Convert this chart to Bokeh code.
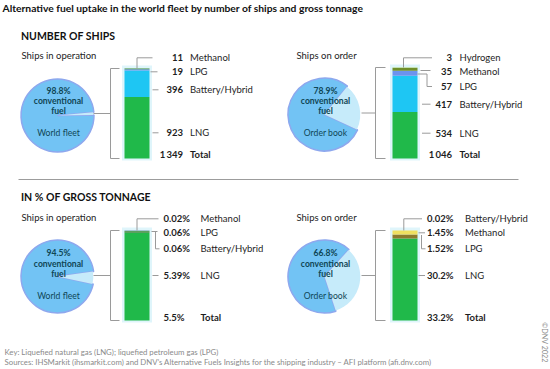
import math
from bokeh.plotting import figure
from bokeh.models import Range1d
from bokeh.core.properties import value
from bokeh.embed import file_html
from bokeh.resources import INLINE

# ---------------- data ----------------
title = "Alternative fuel uptake in the world fleet by number of ships and gross tonnage"
section_titles = ["NUMBER OF SHIPS", "IN % OF GROSS TONNAGE"]
panel_titles = ["Ships in operation", "Ships on order", "Ships in operation", "Ships on order"]
pie_names = ["World fleet", "Order book", "World fleet", "Order book"]
conventional_pct = [98.8, 78.9, 94.5, 66.8]

ships_op_fuels = ["Methanol", "LPG", "Battery/Hybrid", "LNG"]
ships_op_values = [11, 19, 396, 923]
ships_op_total = 1349

ships_order_fuels = ["Hydrogen", "Methanol", "LPG", "Battery/Hybrid", "LNG"]
ships_order_values = [3, 35, 57, 417, 534]
ships_order_total = 1046

gt_op_fuels = ["Methanol", "LPG", "Battery/Hybrid", "LNG"]
gt_op_values = [0.02, 0.06, 0.06, 5.39]
gt_op_total = 5.5

gt_order_fuels = ["Battery/Hybrid", "Methanol", "LPG", "LNG"]
gt_order_values = [0.02, 1.45, 1.52, 30.2]
gt_order_total = 33.2

key_note = "Key: Liquefied natural gas (LNG); liquefied petroleum gas (LPG)"
sources_note = ("Sources: IHSMarkit (ihsmarkit.com) and DNV\u2019s Alternative Fuels Insights "
                "for the shipping industry \u2013 AFI platform (afi.dnv.com)")
copyright_note = "\u00a9DNV 2022"

# ---------------- styles / layout ----------------
FONT = "Lato"
TXT = "#1e1e1e"
PIE_TXT = "#0f4654"
GRAY = "#9a9a9a"
PIE_MAIN = "#72c3f4"
PIE_ALT = "#c6ebfa"
PIE_RIM = "#8ea8ee"
HALO = "#dff5fb"

def ships_fmt(v):
    return f"{v:,}".replace(",", "\u2009")

def pct_fmt(v):
    return f"{v}%"

panels = [
    dict(fuels=ships_op_fuels, values=ships_op_values, total=ships_op_total, fmt=ships_fmt,
         colors=["#3a8a2e", "#6b93ee", "#1ec6f3", "#20b94a"],
         cx=57, cy=115, alt_center=3, bar_x=136.5, bar_top=68, bar_bot=158,
         rows=[57.3, 71.3, 89.3, 132.3], total_y=154.3, num_x=182.5, num_align="right", name_x=189.5,
         pie_rows=[90, 100, 110, 132], bracket_x=110, tick_x=119, conn_from=93,
         leaders=[[(136.5, 68), (136.5, 57.3), (152, 57.3)],
                  [(150, 71.3), (157, 71.3)],
                  [(152, 89.3), (158, 89.3)],
                  [(152, 132.3), (158, 132.3)]]),
    dict(fuels=ships_order_fuels, values=ships_order_values, total=ships_order_total, fmt=ships_fmt,
         colors=["#c8ef7c", "#6f8f2a", "#6b93ee", "#1ec6f3", "#20b94a"],
         cx=324, cy=114, alt_center=13, bar_x=404.5, bar_top=67, bar_bot=158,
         rows=[57.3, 71.3, 86, 103.7, 132.7], total_y=154.3, num_x=451.5, num_align="right", name_x=459,
         pie_rows=[90, 100, 110, 132], bracket_x=375, tick_x=385, conn_from=361,
         leaders=[[(403, 67), (403, 57.3), (431.5, 57.3)],
                  [(420, 70), (430, 70)],
                  [(417, 73.5), (426.5, 73.5), (426.5, 86), (431.5, 86)],
                  [(421.5, 103.7), (430, 103.7)],
                  [(421.5, 132.7), (430, 132.7)]]),
    dict(fuels=gt_op_fuels, values=gt_op_values, total=gt_op_total, fmt=pct_fmt,
         colors=["#6b93ee", "#3f8a3a", "#3f8a3a", "#20b94a"],
         cx=57, cy=276, alt_center=-2, bar_x=136.5, bar_top=230, bar_bot=320,
         rows=[218.3, 231.7, 248.3, 275], total_y=316.7, num_x=163, num_align="left", name_x=200,
         pie_rows=[252.7, 263.3, 273.3, 295], bracket_x=110, tick_x=119, conn_from=93,
         leaders=[[(136.5, 230), (136.5, 218.3), (158, 218.3)],
                  [(151, 231), (157, 231)],
                  [(155, 231), (155, 248.3), (159, 248.3)],
                  [(152, 275), (158, 275)]]),
    dict(fuels=gt_order_fuels, values=gt_order_values, total=gt_order_total, fmt=pct_fmt,
         colors=["#f2e860", "#efe060", "#8c7a2c", "#20b94a"],
         cx=324, cy=276, alt_center=-12, bar_x=404.5, bar_top=230, bar_bot=320,
         rows=[218.3, 232.3, 248.3, 275], total_y=316.7, num_x=426.5, num_align="left", name_x=464.5,
         pie_rows=[252.7, 263.3, 273.3, 295], bracket_x=375, tick_x=385, conn_from=361,
         leaders=[[(403.3, 230), (403.3, 218.3), (421.5, 218.3)],
                  [(418, 232.3), (424.5, 232.3)],
                  [(421, 234.5), (421, 248.3), (425, 248.3)],
                  [(418, 275), (424.5, 275)]]),
]

X0, X1, Y0, Y1 = 0, 550, 0, 369
p = figure(width=X1 - X0, height=Y1 - Y0, x_range=Range1d(X0, X1), y_range=Range1d(Y1, Y0),
           output_backend="svg", toolbar_location=None, x_axis_type=None, y_axis_type=None,
           min_border=0)
p.grid.visible = False
p.outline_line_color = None
p.background_fill_color = "white"


def txt(x, y, s, size, bold=False, color=TXT, align="left", angle=0.0):
    p.text(x=[x], y=[y], text=[s], text_font=value(FONT), text_font_size=value(f"{size}px"),
           text_font_style="bold" if bold else "normal", text_color=color,
           text_align=align, text_baseline="middle", angle=angle)


# title, sections, separator
txt(2, 7.8, title, 10.3, bold=True, color="#111111")
txt(20.5, 35, section_titles[0], 10.5, bold=True, color="#111111")
txt(20.5, 196.7, section_titles[1], 10.5, bold=True, color="#111111")
p.line(x=[18, 518], y=[179, 179], line_color="#9c9c9c", line_width=1)

panel_title_pos = [(21, 55), (296, 55), (21, 217.3), (296, 217.3)]

for i, pn in enumerate(panels):
    # panel title
    tx, ty = panel_title_pos[i]
    txt(tx, ty, panel_titles[i], 9.5, color="#222222")

    # pie: conventional vs alternative share (angles are screen anticlockwise)
    conv = conventional_pct[i]
    alt_span = (100 - conv) / 100 * 2 * math.pi
    a0 = math.radians(pn["alt_center"]) - alt_span / 2
    a1 = a0 + alt_span
    r = 36.5
    p.wedge(x=[pn["cx"]], y=[pn["cy"]], radius=r, start_angle=[a1], end_angle=[a0 + 2 * math.pi],
            fill_color=PIE_MAIN, line_color=PIE_RIM, line_width=1.5)
    p.wedge(x=[pn["cx"]], y=[pn["cy"]], radius=r - 0.7, start_angle=[a0], end_angle=[a1],
            fill_color=PIE_ALT, line_color=None)
    pr = pn["pie_rows"]
    txt(pn["cx"] + 1, pr[0], f"{conv}%", 8.6, bold=True, color=PIE_TXT, align="center")
    txt(pn["cx"] + 1, pr[1], "conventional", 8.6, bold=True, color=PIE_TXT, align="center")
    txt(pn["cx"] + 1, pr[2], "fuel", 8.6, bold=True, color=PIE_TXT, align="center")
    txt(pn["cx"] + 1, pr[3], pie_names[i], 8.6, color=PIE_TXT, align="center")

    # bracket + connector
    bx, tk = pn["bracket_x"], pn["tick_x"]
    top, bot = pn["bar_top"], pn["bar_bot"]
    mid = (top + bot) / 2
    p.line(x=[tk, bx, bx, tk], y=[top, top, bot, bot], line_color=GRAY, line_width=1)
    p.line(x=[pn["conn_from"], bx], y=[mid, mid], line_color=GRAY, line_width=1)

    # soft halo behind the bar
    p.quad(left=[pn["bar_x"] - 15], right=[pn["bar_x"] + 15], top=[top - 3], bottom=[bot + 2],
           fill_color=HALO, line_color=None)

    # stacked bar, drawn on its own value scale
    vals = pn["values"]
    s = sum(vals)
    hb = bot - top
    rname = f"bar{i}"
    p.extra_y_ranges[rname] = Range1d(start=(bot - Y1) * s / hb, end=(bot - Y0) * s / hb)
    bottoms, tops, cols = [], [], []
    acc = 0.0
    for v, c in zip(reversed(vals), reversed(pn["colors"])):
        bottoms.append(acc)
        acc += v
        tops.append(acc)
        cols.append(c)
    p.quad(left=[pn["bar_x"] - 12.5] * len(vals), right=[pn["bar_x"] + 12.5] * len(vals),
           bottom=bottoms, top=tops, fill_color=cols, line_color=None, y_range_name=rname)

    # leader lines
    p.multi_line(xs=[[pt[0] for pt in ld] for ld in pn["leaders"]],
                 ys=[[pt[1] for pt in ld] for ld in pn["leaders"]],
                 line_color=GRAY, line_width=1)

    # labels
    for name, v, y in zip(pn["fuels"], vals, pn["rows"]):
        txt(pn["num_x"], y, pn["fmt"](v), 9.5, bold=True, align=pn["num_align"])
        txt(pn["name_x"], y, name, 9.5)
    txt(pn["num_x"], pn["total_y"], pn["fmt"](pn["total"]), 9.5, bold=True, align=pn["num_align"])
    txt(pn["name_x"], pn["total_y"], "Total", 9.5, bold=True)

# footer
txt(4, 351.7, key_note, 7.8, color="#8a8a8a")
txt(4, 361.7, sources_note, 7.8, color="#8a8a8a")
txt(544, 342, copyright_note, 7.2, color="#8a8a8a", align="center", angle=-math.pi / 2)

open("out.html", "w").write(file_html(p, INLINE))
